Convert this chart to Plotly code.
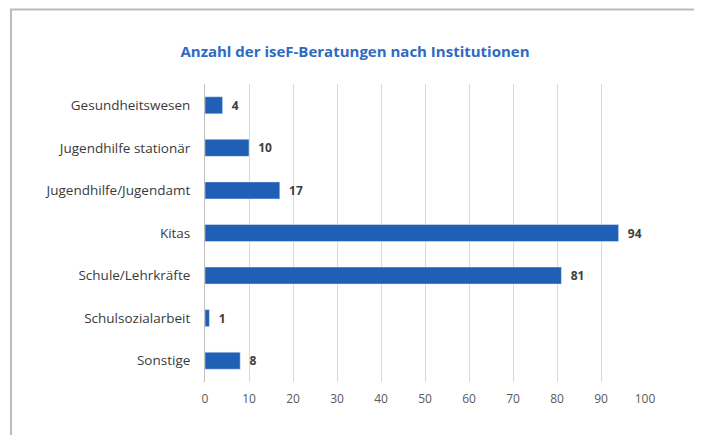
import plotly.graph_objects as go

categories = ["Gesundheitswesen", "Jugendhilfe stationär", "Jugendhilfe/Jugendamt",
              "Kitas", "Schule/Lehrkräfte", "Schulsozialarbeit", "Sonstige"]
counts = [4, 10, 17, 94, 81, 1, 8]
x_ticks = [0, 10, 20, 30, 40, 50, 60, 70, 80, 90, 100]

font_family = "Open Sans, Liberation Sans, sans-serif"

fig = go.Figure()
fig.add_trace(go.Bar(
    x=counts, y=categories, orientation="h",
    marker_color="#1f5fb5", width=0.4,
    text=[f"\u00a0\u00a0<b>{c}</b>" for c in counts], textposition="outside", cliponaxis=False,
    textfont=dict(size=12, color="#404040", family=font_family),
))

# the page adds an 8px body margin; figure is sized so the page does not scroll
fig.update_layout(
    width=694, height=427,
    margin=dict(l=197, r=57, t=76, b=53),
    paper_bgcolor="white", plot_bgcolor="white",
    showlegend=False,
    title=dict(text="<b>Anzahl der iseF-Beratungen nach Institutionen</b>",
               x=0.5, xanchor="center", yref="container", y=1 - 44 / 427, yanchor="middle",
               font=dict(size=15, color="#2e6bc0", family=font_family)),
    font=dict(family=font_family, size=12, color="#595959"),
)
fig.update_xaxes(range=[0, 100], tickvals=x_ticks, showgrid=True,
                 gridcolor="#d9d9d9", gridwidth=1, zeroline=False,
                 showline=False, ticks="", ticklabelstandoff=8,
                 tickfont=dict(size=12, color="#595959"))
fig.update_yaxes(categoryorder="array", categoryarray=categories[::-1],
                 showgrid=False, showline=True, linecolor="#bfbfbf", linewidth=1,
                 ticks="", ticklabelstandoff=11,
                 tickfont=dict(size=13.5, color="#3a3a3a"))

# outer frame of the picture
fig.add_shape(type="rect", xref="paper", yref="paper",
              x0=-0.441, x1=1.1205, y0=-0.25, y1=1.25,
              line=dict(color="#bbbbbb", width=2), layer="below")

fig.write_html("out.html")
